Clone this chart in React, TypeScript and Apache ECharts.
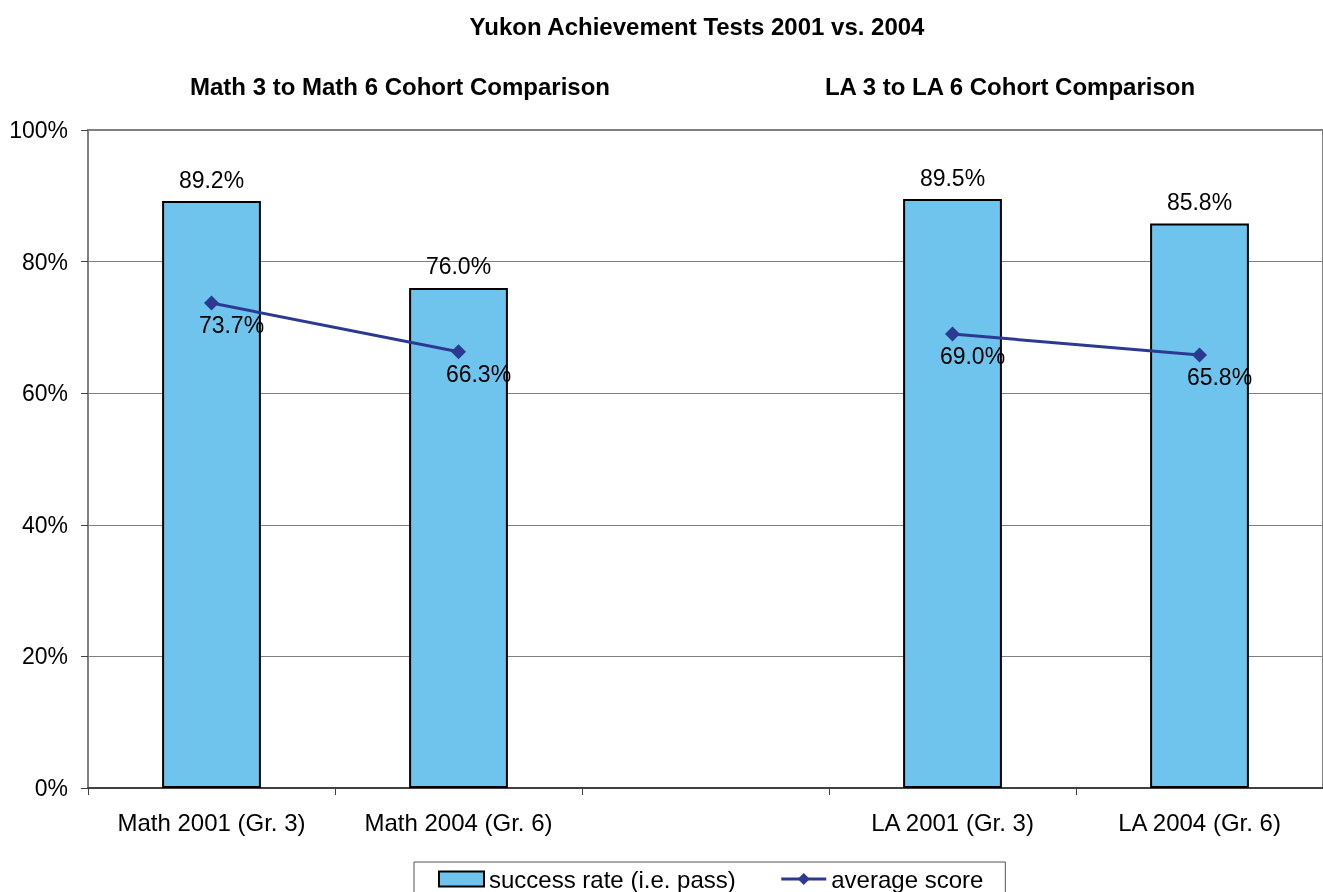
import React, { useEffect, useRef } from "react";
import * as echarts from "echarts";

const categories = ["Math 2001 (Gr. 3)", "Math 2004 (Gr. 6)", "", "LA 2001 (Gr. 3)", "LA 2004 (Gr. 6)"];
const successRate: (number | null)[] = [89.2, 76.0, null, 89.5, 85.8];
const averageScore: (number | null)[] = [73.7, 66.3, null, 69.0, 65.8];
const yTicks = [0, 20, 40, 60, 80, 100];
const mainTitle = "Yukon Achievement Tests 2001 vs. 2004";
const leftSubtitle = "Math 3 to Math 6 Cohort Comparison";
const rightSubtitle = "LA 3 to LA 6 Cohort Comparison";

const FONT = "Liberation Sans, Arial, sans-serif";

export default function App() {
  const ref = useRef<HTMLDivElement>(null);
  useEffect(() => {
    if (!ref.current) return;
    const chart = echarts.init(ref.current, undefined, { renderer: "svg" });
    chart.setOption({
      animation: false,
      textStyle: { fontFamily: FONT },
      title: [
        { text: mainTitle, left: 692, top: 9, textAlign: "center", textStyle: { fontSize: 24, fontWeight: "bold", color: "#000", fontFamily: FONT } },
        { text: leftSubtitle, left: 395, top: 69, textAlign: "center", textStyle: { fontSize: 24, fontWeight: "bold", color: "#000", fontFamily: FONT } },
        { text: rightSubtitle, left: 1005, top: 69, textAlign: "center", textStyle: { fontSize: 24, fontWeight: "bold", color: "#000", fontFamily: FONT } },
      ],
      legend: {
        left: 414,
        top: 862,
        padding: [5, 22, 8, 24],
        borderColor: "#555",
        borderWidth: 1,
        itemWidth: 45,
        itemHeight: 15,
        itemGap: 44,
        textStyle: { fontSize: 24, color: "#000", fontFamily: FONT },
        data: [
          { name: "success rate (i.e. pass)", icon: "rect" },
          { name: "average score", lineStyle: { width: 3 } },
        ],
      },
      grid: { left: 88, right: 0, top: 130, bottom: 104, show: true, borderColor: "#808080", borderWidth: 2 },
      xAxis: {
        type: "category",
        data: categories,
        boundaryGap: true,
        axisLine: { lineStyle: { color: "#404040", width: 2 } },
        axisTick: { show: true, length: 7, lineStyle: { color: "#404040", width: 1 } },
        axisLabel: { fontSize: 24, color: "#000", margin: 22, fontFamily: FONT },
      },
      yAxis: {
        type: "value",
        min: yTicks[0],
        max: yTicks[yTicks.length - 1],
        interval: 20,
        axisLine: { show: true, lineStyle: { color: "#808080", width: 2 } },
        axisTick: { show: true, length: 7, lineStyle: { color: "#404040", width: 1 } },
        axisLabel: { fontSize: 23, color: "#000", margin: 20, formatter: (v: number) => v + "%", fontFamily: FONT },
        splitLine: { show: true, lineStyle: { color: "#808080", width: 1 } },
      },
      series: [
        {
          name: "success rate (i.e. pass)",
          type: "bar",
          data: successRate,
          barWidth: "40%",
          itemStyle: { color: "#6FC4ED", borderColor: "#000", borderWidth: 2 },
          label: {
            show: true,
            position: "top",
            distance: 10,
            fontSize: 23,
            color: "#000",
            fontFamily: FONT,
            formatter: (p: any) => p.value.toFixed(1) + "%",
          },
        },
        {
          name: "average score",
          type: "line",
          data: averageScore,
          connectNulls: false,
          symbol: "diamond",
          symbolSize: 15,
          lineStyle: { color: "#2B3990", width: 3 },
          itemStyle: { color: "#2B3990" },
          label: {
            show: true,
            position: "bottom",
            distance: 3,
            offset: [20, 0],
            fontSize: 23,
            color: "#000",
            fontFamily: FONT,
            formatter: (p: any) => p.value.toFixed(1) + "%",
          },
        },
      ],
    });
    return () => chart.dispose();
  }, []);
  return <div ref={ref} style={{ position: "fixed", left: 0, top: 0, width: 1323, height: 892 }} />;
}
